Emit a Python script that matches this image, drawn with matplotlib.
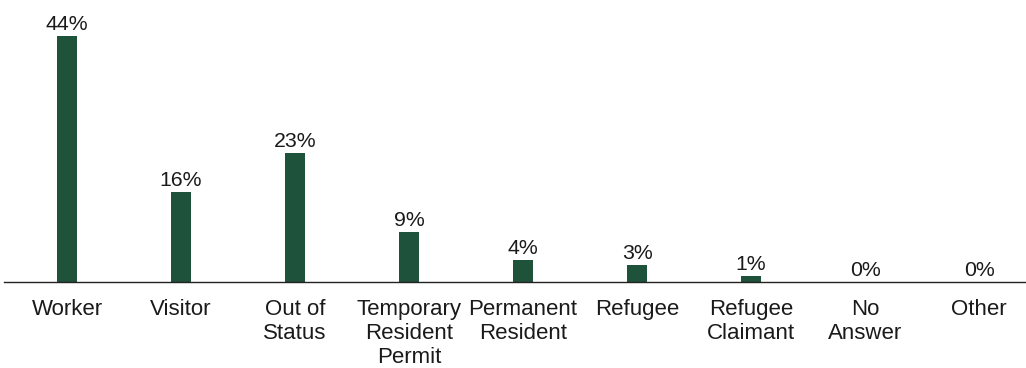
import matplotlib
matplotlib.use("Agg")
import matplotlib.pyplot as plt

# data
categories = ["Worker", "Visitor", "Out of\nStatus", "Temporary\nResident\nPermit",
              "Permanent\nResident", "Refugee", "Refugee\nClaimant", "No\nAnswer", "Other"]
values = [44, 16, 23, 9, 4, 3, 1, 0, 0]
value_labels = ["44%", "16%", "23%", "9%", "4%", "3%", "1%", "0%", "0%"]

plt.rcParams["font.family"] = ["Liberation Sans", "DejaVu Sans"]

fig = plt.figure(figsize=(10.26, 3.68), dpi=100)
ax = fig.add_axes([4 / 1026, 86 / 368, 1022 / 1026, 282 / 368])

x = list(range(len(categories)))
bars = ax.bar(x, values, width=0.175, color="#1e523a", zorder=2)

for b, lab in zip(bars, value_labels):
    ax.annotate(lab, (b.get_x() + b.get_width() / 2, b.get_height()),
                xytext=(0, 1.5), textcoords="offset points",
                ha="center", va="bottom", fontsize=15.3, color="#1a1a1a")

ax.set_xlim(-0.553, 8.412)
ax.set_ylim(0, 50.4)
ax.set_xticks(x)
ax.set_xticklabels(categories, fontsize=16, color="#1a1a1a", linespacing=1.2)
ax.tick_params(axis="x", length=0, pad=12)
ax.set_yticks([])
for s in ["top", "left", "right"]:
    ax.spines[s].set_visible(False)
ax.spines["bottom"].set_linewidth(1.0)
ax.spines["bottom"].set_color("#222222")
ax.patch.set_alpha(0)

fig.savefig("out.png", dpi=100)
